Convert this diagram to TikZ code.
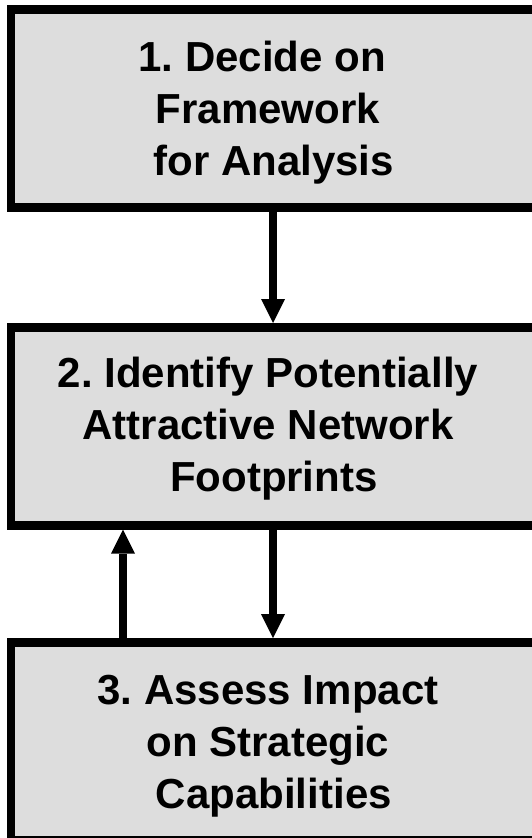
\documentclass[tikz,border=0pt]{standalone}
\usepackage{fontspec}
\setmainfont{Liberation Sans}
\usetikzlibrary{arrows.meta}
\definecolor{boxgray}{HTML}{DDDDDD}
\newcommand\gap{\hspace*{0.278em}}
\frenchspacing
\begin{document}
\begin{tikzpicture}[x=1pt, y=-1pt, line join=miter,
  >={Triangle[length=24pt,width=24pt,line width=0pt]},
  stepbox/.style={draw, line width=8.5pt, fill=boxgray, minimum width=525pt, minimum height=198pt, inner sep=0pt},
  steptext/.style={align=center, font=\fontsize{42}{52}\selectfont\bfseries},
  flow/.style={->, line width=8pt}]
\useasboundingbox (0,0) rectangle (531,838);

% Boxes
\node[stepbox] (box1) at (273.5,108.25) {};
\node[stepbox] (box2) at (273.5,426.25) {};
\node[stepbox] (box3) at (273.5,741.25) {};

% Texts
\node[steptext] (txt1) at (268,113) {1. Decide on\gap\\Framework\\\gap for Analysis};
\node[steptext] (txt2) at (268,429) {2. Identify Potentially\\Attractive Network\\\gap Footprints};
\node[steptext] (txt3) at (268,746) {3. Assess Impact\\on Strategic\\\gap Capabilities};

% Arrows
\coordinate (colL) at (123,0);
\coordinate (colR) at (273,0);
\draw[flow] (box1.south -| colR) -- (box2.north -| colR);
\draw[flow] (box2.south -| colR) -- (box3.north -| colR);
\draw[flow] (box3.north -| colL) -- (box2.south -| colL);
\end{tikzpicture}
\end{document}
